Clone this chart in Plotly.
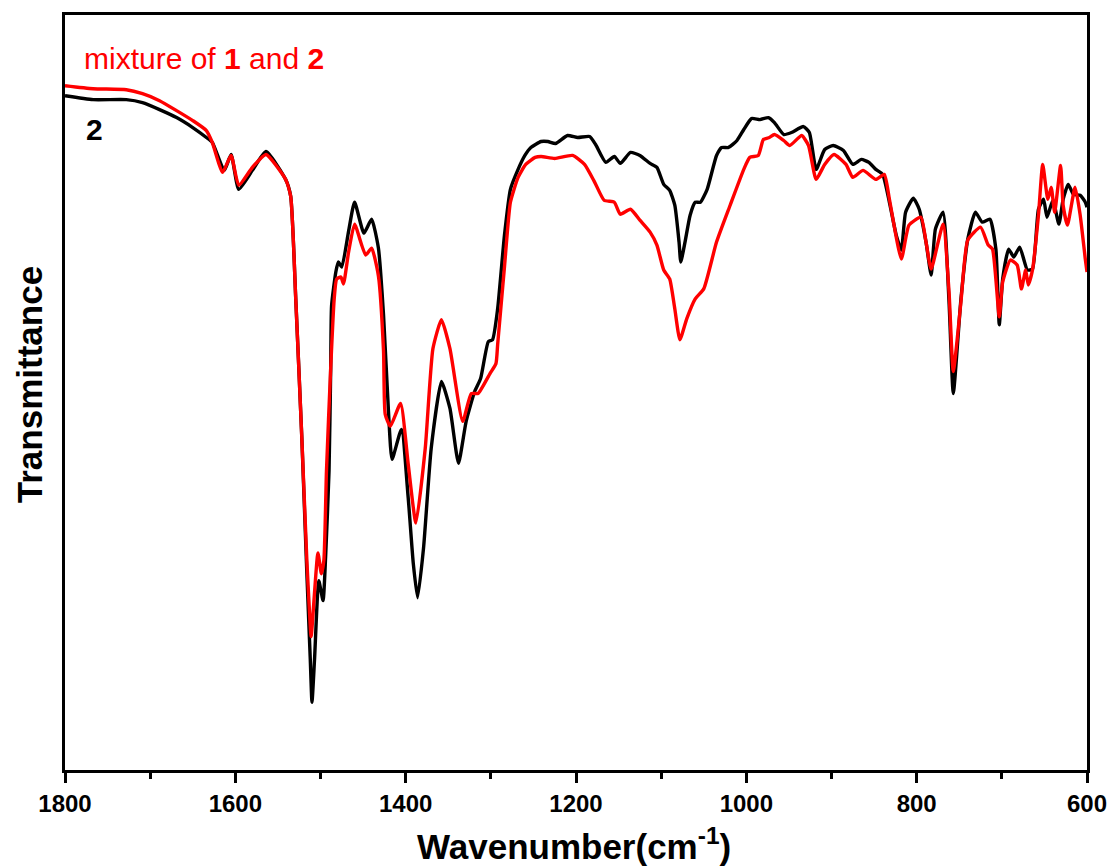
import plotly.graph_objects as go

# Sample 2 (black)
wn_2 = [1800, 1767, 1728, 1709, 1689, 1669, 1650, 1634, 1627, 1613, 1605, 1596, 1580, 1564,
        1541, 1535, 1529, 1522, 1516, 1512, 1510, 1507, 1502, 1497, 1494, 1490, 1488, 1487,
        1482, 1479, 1475, 1467, 1460, 1449, 1440, 1432, 1426, 1420, 1416, 1405, 1397, 1391,
        1386, 1379, 1370, 1358, 1348, 1338, 1329, 1319, 1312, 1303, 1298, 1292, 1284, 1277,
        1268, 1260, 1253, 1241, 1233, 1224, 1210, 1198, 1184, 1177, 1165, 1155, 1148, 1136,
        1125, 1113, 1105, 1097, 1090, 1084, 1079, 1077, 1072, 1066, 1060, 1054, 1046, 1035,
        1029, 1021, 1011, 1003, 994, 984, 974, 967, 956, 947, 933, 926, 918, 908, 898, 886,
        875, 865, 856, 848, 840, 832, 824, 818, 813, 804, 797, 789, 783, 778, 769, 762, 757,
        748, 740, 731, 723, 714, 707, 703, 699, 692, 686, 679, 670, 664, 657, 651, 647, 640,
        633, 628, 622, 616, 608, 602, 600]
t_2 = [67.7, 67.3, 67.3, 67.0, 66.3, 65.5, 64.5, 63.5, 63.0, 60.2, 61.8, 58.3, 60.2, 62.1,
       59.3, 57.6, 47.2, 33.5, 19.7, 11.1, 6.8, 11.1, 19.0, 17.0, 21.4, 30.0, 40.4, 46.6,
       50.0, 51.0, 50.5, 54.1, 57.0, 53.9, 55.3, 52.4, 45.7, 35.7, 31.2, 34.2, 27.3, 20.7,
       17.3, 22.3, 32.3, 39.0, 36.3, 30.8, 35.0, 38.0, 39.3, 43.0, 43.2, 46.3, 53.7, 58.3,
       60.3, 61.7, 62.5, 63.1, 63.1, 62.9, 63.7, 63.5, 63.6, 62.8, 61.0, 61.6, 60.9, 62.0,
       61.7, 60.9, 60.5, 58.8, 58.2, 56.7, 53.0, 51.0, 53.0, 55.7, 57.0, 57.0, 58.3, 61.7,
       62.5, 62.5, 63.2, 64.3, 65.4, 65.3, 65.5, 65.0, 63.8, 64.0, 64.6, 64.0, 60.3, 62.3, 62.7, 62.2,
       60.8, 61.3, 61.0, 60.3, 59.8, 57.0, 53.7, 52.2, 56.0, 57.4, 56.3, 53.0, 49.7, 54.3, 56.0, 47.0, 37.8,
       47.3, 53.3, 56.0, 55.0, 55.3, 52.3, 44.7, 49.3, 52.3, 51.5, 52.5, 50.2, 50.3, 56.3, 57.3, 55.5, 57.2,
       54.8, 57.3, 58.8, 57.8, 57.7, 57.0, 56.5]

# Mixture of 1 and 2 (red)
wn_mix = [1800, 1767, 1728, 1709, 1689, 1669, 1650, 1634, 1627, 1615, 1605, 1596, 1580, 1564,
          1541, 1535, 1529, 1522, 1516, 1513, 1511, 1503, 1499, 1496, 1493, 1488, 1484, 1481,
          1476, 1473, 1467, 1460, 1447, 1440, 1432, 1426, 1424, 1418, 1406, 1397, 1388, 1377,
          1368, 1358, 1348, 1333, 1323, 1315, 1301, 1294, 1292, 1284, 1277, 1268, 1259, 1248,
          1241, 1225, 1204, 1190, 1178, 1167, 1155, 1148, 1136, 1125, 1113, 1105, 1097, 1090,
          1084, 1078, 1070, 1060, 1050, 1035, 1019, 1003, 996, 986, 980, 973, 967, 956, 949,
          935, 927, 918, 908, 897, 883, 875, 863, 848, 838, 832, 818, 809, 795, 789, 783, 769,
          762, 757, 748, 740, 725, 716, 711, 703, 699, 690, 682, 677, 672, 669, 664, 657, 652,
          646, 642, 638, 631, 628, 623, 614, 608, 602, 600]
t_mix = [68.7, 68.4, 68.3, 67.9, 67.2, 66.2, 65.2, 64.2, 63.0, 60.0, 61.7, 58.7, 60.5, 61.8,
         59.3, 57.6, 47.2, 33.5, 21.0, 16.0, 13.4, 21.8, 19.7, 21.1, 30.0, 40.4, 47.2, 49.3,
         49.5, 48.8, 52.0, 54.8, 51.7, 52.4, 49.6, 42.1, 35.7, 34.5, 36.8, 30.7, 24.8, 32.3,
         42.3, 45.2, 42.3, 35.0, 37.8, 37.8, 39.8, 40.8, 42.7, 50.5, 57.0, 59.5, 60.8, 61.5,
         61.6, 61.4, 61.7, 60.8, 59.0, 57.2, 57.0, 55.8, 56.3, 55.2, 54.0, 52.7, 50.2, 49.3,
         46.3, 43.2, 45.3, 47.3, 48.3, 53.0, 56.7, 60.3, 61.5, 61.7, 63.3, 63.5, 63.8, 63.2, 62.7,
         63.7, 62.7, 59.3, 60.8, 61.8, 60.8, 59.5, 60.2, 59.3, 59.8, 57.3, 51.3, 54.7, 55.5, 53.0, 50.3, 54.8,
         48.0, 40.0, 47.0, 53.2, 54.5, 52.7, 52.3, 45.5, 49.0, 51.2, 50.7, 48.3, 50.2, 48.7, 50.2, 55.7, 60.8,
         57.3, 58.5, 56.0, 60.7, 56.7, 54.7, 58.5, 55.7, 51.3, 50.0]

x_ticks = [1800, 1600, 1400, 1200, 1000, 800, 600]

FONT = "Liberation Sans"

fig = go.Figure()
fig.add_trace(go.Scatter(x=wn_2, y=t_2, mode="lines",
                         line=dict(color="black", width=3.4, shape="spline", smoothing=0.5),
                         showlegend=False))
fig.add_trace(go.Scatter(x=wn_mix, y=t_mix, mode="lines",
                         line=dict(color="#ff0000", width=3.4, shape="spline", smoothing=0.5),
                         showlegend=False))

fig.update_layout(
    width=1119, height=866,
    margin=dict(l=65, r=27, t=12, b=96),
    paper_bgcolor="white", plot_bgcolor="white",
    font=dict(family=FONT, color="black"),
    xaxis=dict(range=[1800, 600], tickvals=x_ticks, ticks="outside", ticklen=10, tickwidth=3,
               tickcolor="black", showline=True, linewidth=3, linecolor="black", mirror=True,
               showgrid=False, zeroline=False,
               tickfont=dict(family=FONT, size=24, weight="bold", color="black"),
               minor=dict(dtick=100, ticks="outside", ticklen=6, tickwidth=3, tickcolor="black",
                          showgrid=False)),
    yaxis=dict(range=[0, 75.8], showticklabels=False, ticks="", showline=True, linewidth=3,
               linecolor="black", mirror=True, showgrid=False, zeroline=False),
    annotations=[
        dict(text="mixture of <b>1</b> and <b>2</b>", xref="paper", yref="paper",
             x=0.0165, y=0.943, xanchor="left", yanchor="middle", showarrow=False,
             font=dict(family=FONT, size=30, color="#ff0000")),
        dict(text="<b>2</b>", xref="paper", yref="paper", x=0.029, y=0.848,
             xanchor="center", yanchor="middle", showarrow=False,
             font=dict(family=FONT, size=30, color="black")),
        dict(text="<b>Wavenumber(cm<sup>-1</sup>)</b>", xref="paper", yref="paper",
             x=0.498, y=-0.098, xanchor="center", yanchor="middle", showarrow=False,
             font=dict(family=FONT, size=35, color="black")),
        dict(text="<b>Transmittance</b>", xref="paper", yref="paper", textangle=-90,
             x=-0.034, y=0.51, xanchor="center", yanchor="middle", showarrow=False,
             font=dict(family=FONT, size=35, color="black")),
    ],
)

fig.write_html("out.html")
